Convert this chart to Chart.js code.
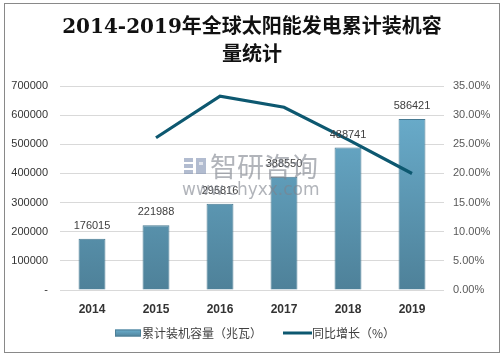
<!DOCTYPE html>
<html>
<head>
<meta charset="utf-8">
<script src="https://cdn.jsdelivr.net/npm/chart.js@4/dist/chart.umd.min.js"></script>
<style>
html,body{margin:0;padding:0;background:#fff;}
#wrap{width:504px;height:358px;position:relative;}
</style>
</head>
<body>
<div id="wrap"><canvas id="c" width="504" height="358"></canvas></div>
<script>
const titleLines = ['2014-2019年全球太阳能发电累计装机容', '量统计'];
const categories = ['2014', '2015', '2016', '2017', '2018', '2019'];
const capacity = [176015, 221988, 295816, 388550, 488741, 586421];
const growth = [null, 26.12, 33.26, 31.35, 25.79, 19.99];
const leftTicks = [0, 100000, 200000, 300000, 400000, 500000, 600000, 700000];
const rightTicks = [0, 5, 10, 15, 20, 25, 30, 35];
const seriesNames = ['累计装机容量（兆瓦）', '同比增长（%）'];

const CJK = '"Noto Sans CJK SC"';

function barGradient(ctx) {
  const chart = ctx.chart;
  const area = chart.chartArea;
  if (!area) return '#5c9bba';
  const g = chart.ctx.createLinearGradient(0, area.top, 0, area.bottom);
  g.addColorStop(0, '#6db2d2');
  g.addColorStop(1, '#4e8199');
  return g;
}

const decor = {
  id: 'decor',
  afterDatasetsDraw(chart) {
    const c = chart.ctx;
    const meta = chart.getDatasetMeta(0);
    c.save();
    c.font = '11px "Liberation Sans", Arial';
    c.fillStyle = '#404040';
    c.textAlign = 'center';
    c.textBaseline = 'middle';
    meta.data.forEach((bar, i) => {
      c.fillText(String(capacity[i]), bar.x, bar.y - 13);
    });
    // watermark
    c.globalAlpha = 0.6;
    c.fillStyle = '#7d828c';
    c.font = '27px ' + CJK;
    c.textAlign = 'left';
    c.fillText('智研咨询', 210, 167);
    c.font = '17px "DejaVu Sans", sans-serif';
    c.fillText('www.chyxx.com', 182, 191);
    // logo
    c.fillStyle = '#7f8fb0';
    c.fillRect(184, 158, 9, 4);
    c.fillRect(184, 164, 9, 4);
    c.fillRect(184, 170, 9, 4);
    c.fillRect(196, 158, 10, 16);
    c.fillStyle = '#fff';
    c.fillRect(199, 162, 4, 3);
    c.restore();
  },
  afterDraw(chart) {
    const c = chart.ctx;
    c.save();
    // frame
    c.strokeStyle = '#898989';
    c.lineWidth = 1;
    c.strokeRect(4.5, 3.5, 495, 349);
    // title
    c.fillStyle = '#111';
    c.textAlign = 'center';
    c.textBaseline = 'middle';
    c.font = 'bold 20px "DejaVu Serif", ' + CJK;
    c.fillText(titleLines[0], 252, 28);
    c.fillText(titleLines[1], 252, 56);
    // legend
    const ly = 333;
    const g = c.createLinearGradient(0, ly - 4, 0, ly + 4);
    g.addColorStop(0, '#6db2d2');
    g.addColorStop(1, '#4e8199');
    c.fillStyle = g;
    c.fillRect(115, ly - 3.5, 26, 7);
    c.strokeStyle = '#4e7f96';
    c.strokeRect(115.5, ly - 3, 25, 6);
    c.fillStyle = '#404040';
    c.font = '12px ' + CJK;
    c.textAlign = 'left';
    c.fillText(seriesNames[0], 142, ly);
    c.strokeStyle = '#0d5870';
    c.lineWidth = 3;
    c.beginPath();
    c.moveTo(283, ly);
    c.lineTo(312, ly);
    c.stroke();
    c.fillText(seriesNames[1], 312, ly);
    c.restore();
  }
};

new Chart(document.getElementById('c'), {
  data: {
    labels: categories,
    datasets: [
      {
        type: 'bar',
        label: seriesNames[0],
        data: capacity,
        yAxisID: 'y',
        backgroundColor: barGradient,
        borderColor: '#477a92',
        borderWidth: 1,
        barPercentage: 0.42,
        categoryPercentage: 1,
        order: 2
      },
      {
        type: 'line',
        label: seriesNames[1],
        data: growth,
        yAxisID: 'y1',
        borderColor: '#0d5870',
        borderWidth: 3.2,
        pointRadius: 0,
        pointHoverRadius: 0,
        tension: 0,
        spanGaps: false,
        order: 1
      }
    ]
  },
  options: {
    responsive: false,
    animation: false,
    devicePixelRatio: 1,
    layout: { padding: { left: 0, right: 0, top: 86, bottom: 41 } },
    plugins: {
      legend: { display: false },
      title: { display: false },
      tooltip: { enabled: false }
    },
    scales: {
      x: {
        grid: { display: false, drawTicks: false },
        border: { display: false },
        ticks: {
          padding: 12,
          color: '#333',
          font: { family: '"Liberation Sans", Arial', size: 12, weight: 'bold' }
        },
        afterFit(s) { s.height = 27; }
      },
      y: {
        position: 'left',
        min: 0,
        max: 700000,
        afterBuildTicks(s) { s.ticks = leftTicks.map(v => ({ value: v })); },
        grid: { color: '#d9d9d9', drawTicks: false },
        border: { display: false },
        ticks: {
          padding: 12,
          color: '#333',
          font: { family: '"Liberation Sans", Arial', size: 11 },
          callback: v => v === 0 ? '-' : String(v)
        },
        afterFit(s) { s.width = 60; }
      },
      y1: {
        position: 'right',
        min: 0,
        max: 35,
        afterBuildTicks(s) { s.ticks = rightTicks.map(v => ({ value: v })); },
        grid: { display: false, drawTicks: false },
        border: { display: false },
        ticks: {
          padding: 9,
          color: '#595959',
          font: { family: '"Liberation Sans", Arial', size: 11 },
          callback: v => v.toFixed(2) + '%'
        },
        afterFit(s) { s.width = 60; }
      }
    }
  },
  plugins: [decor]
});
</script>
</body>
</html>
